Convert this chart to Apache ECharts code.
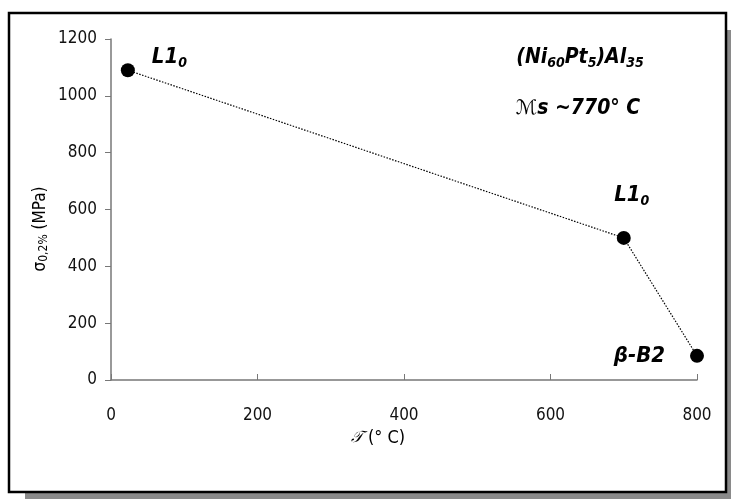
<!DOCTYPE html>
<html><head><meta charset="utf-8">
<script src="https://cdn.jsdelivr.net/npm/echarts@6/dist/echarts.min.js"></script>
<style>html,body{margin:0;padding:0;background:#fff}#c{width:731px;height:499px}</style>
</head><body><div id="c"></div>
<script>
// Data
const temperatures = [23, 700, 800];           // T (°C)
const stresses = [1090, 500, 85];              // σ0.2% (MPa)
const xTicks = [0, 200, 400, 600, 800];
const yTicks = [0, 200, 400, 600, 800, 1000, 1200];

const chart = echarts.init(document.getElementById('c'), null, {renderer: 'canvas'});
const axisFont = "'DejaVu Sans Condensed', 'Liberation Sans Narrow', sans-serif";
const annFont = "'DejaVu Sans Condensed', 'DejaVu Sans', Verdana, sans-serif";

const labelRich = {
  m: {fontFamily: annFont, fontWeight: 'bold', fontStyle: 'italic', fontSize: 22, color: '#000'},
  s: {fontFamily: annFont, fontWeight: 'bold', fontStyle: 'italic', fontSize: 14, color: '#000', padding: [12, 0, 0, 0]}
};
const labelCfg = [
  {position: 'right', distance: 17, offset: [0, -13], formatter: '{m|L1}{s|0}'},
  {position: 'top', distance: 17, offset: [8, -6], formatter: '{m|L1}{s|0}'},
  {position: 'left', distance: 25, offset: [0, 0], formatter: '{m|β-B2}'}
];

const data = temperatures.map((t, i) => ({
  value: [t, stresses[i]],
  label: Object.assign({show: true, rich: labelRich}, labelCfg[i])
}));

chart.setOption({
  animation: false,
  backgroundColor: '#fff',
  grid: {left: 111, right: 34, top: 39, bottom: 119, containLabel: false},
  xAxis: {
    type: 'value', min: 0, max: 800, interval: 200,
    axisLine: {show: true, lineStyle: {color: '#777', width: 1.5}},
    axisTick: {show: true, inside: true, length: 6, lineStyle: {color: '#777'}},
    axisLabel: {margin: 27, fontSize: 17, color: '#111', fontFamily: axisFont,
      formatter: v => xTicks.includes(v) ? String(v) : ''},
    splitLine: {show: false}
  },
  yAxis: {
    type: 'value', min: 0, max: 1200, interval: 200,
    axisLine: {show: true, lineStyle: {color: '#777', width: 1.5}},
    axisTick: {show: true, inside: false, length: 6, lineStyle: {color: '#777'}},
    axisLabel: {margin: 14, fontSize: 17, color: '#111', fontFamily: axisFont,
      formatter: v => yTicks.includes(v) ? String(v) : ''},
    splitLine: {show: false}
  },
  series: [{
    type: 'line',
    data: data,
    symbol: 'circle',
    symbolSize: 14,
    itemStyle: {color: '#000'},
    lineStyle: {color: '#000', width: 1.2, type: [1.5, 1.5]},
    z: 5
  }],
  graphic: [
    {type: 'rect', z: -2, silent: true, shape: {x: 25, y: 30, width: 706, height: 469}, style: {fill: '#8a8a8a'}},
    {type: 'rect', z: -1.5, silent: true, shape: {x: 9, y: 13, width: 717, height: 479}, style: {fill: '#fff'}},
    {type: 'rect', z: -1, silent: true, shape: {x: 9, y: 13, width: 717, height: 479}, style: {fill: 'transparent', stroke: '#000', lineWidth: 2.5}},
    {type: 'text', x: 41, y: 229, rotation: Math.PI / 2, silent: true,
      style: {text: '{a|σ}{b|0,2%}{a| (MPa)}', align: 'center', verticalAlign: 'middle',
        rich: {a: {fontFamily: axisFont, fontSize: 17, color: '#111'},
               b: {fontFamily: axisFont, fontSize: 12, color: '#111', padding: [6, 0, 0, 0]}}}},
    {type: 'text', x: 378, y: 438, silent: true,
      style: {text: '{t|𝒯}{a| (° C)}', align: 'center', verticalAlign: 'middle',
        rich: {t: {fontFamily: "'DejaVu Serif', serif", fontStyle: 'italic', fontSize: 16, color: '#111'},
               a: {fontFamily: axisFont, fontSize: 18, color: '#111'}}}},
    {type: 'text', x: 580, y: 58, silent: true,
      style: {text: '{m|(Ni}{s|60}{m|Pt}{s|5}{m|)Al}{s|35}', align: 'center', verticalAlign: 'middle',
        rich: {m: {fontFamily: annFont, fontWeight: 'bold', fontStyle: 'italic', fontSize: 21, color: '#000'},
               s: {fontFamily: annFont, fontWeight: 'bold', fontStyle: 'italic', fontSize: 14, color: '#000', padding: [10, 0, 0, 0]}}}},
    {type: 'text', x: 578, y: 109, silent: true,
      style: {text: '{sc|ℳ}{m|s ~770° C}', align: 'center', verticalAlign: 'middle',
        rich: {m: {fontFamily: annFont, fontWeight: 'bold', fontStyle: 'italic', fontSize: 21, color: '#000'},
               sc: {fontFamily: "'DejaVu Serif', 'DejaVu Sans', serif", fontStyle: 'italic', fontSize: 20, color: '#000'}}}}
  ]
});
</script></body></html>
